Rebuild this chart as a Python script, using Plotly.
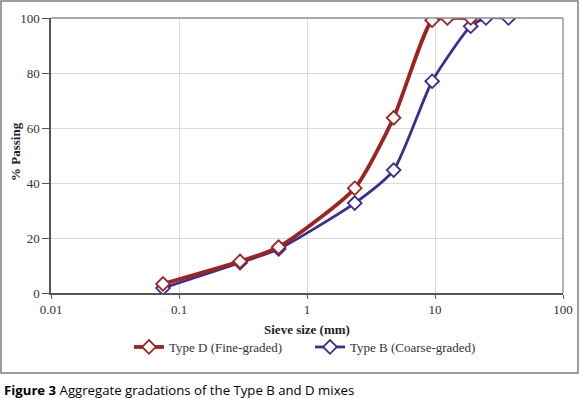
import plotly.graph_objects as go

sieve_d = [0.075, 0.3, 0.6, 2.36, 4.75, 9.5, 12.5, 19]
pass_d = [3.3, 11.5, 16.7, 38.1, 63.7, 99.2, 100, 100]
sieve_b = [0.075, 0.3, 0.6, 2.36, 4.75, 9.5, 19, 25, 37.5]
pass_b = [1.8, 11.0, 16.0, 32.7, 44.7, 77.0, 97.0, 100, 100]

red = "#9b2423"
blue = "#3b2d92"
serif = "Liberation Serif"

fig = go.Figure()
fig.add_trace(go.Scatter(
    x=sieve_b, y=pass_b, name="Type B (Coarse-graded)", mode="lines+markers",
    line=dict(color=blue, width=2.8, shape="spline", smoothing=0.6),
    marker=dict(symbol="diamond", size=10.5, color="white", line=dict(color=blue, width=1.8)),
    legendrank=2,
))
fig.add_trace(go.Scatter(
    x=sieve_d, y=pass_d, name="Type D (Fine-graded)", mode="lines+markers",
    line=dict(color=red, width=3.8, shape="spline", smoothing=0.6),
    marker=dict(symbol="diamond", size=10.5, color="white", line=dict(color=red, width=1.8)),
    legendrank=1,
))

L, R, T, B = 51, 17, 18, 105
W, H = 580, 398
pw, ph = W - L - R, H - T - B

def px(x):
    return (x - L) / pw

def py(y):
    return (H - B - y) / ph

fig.add_shape(type="rect", xref="paper", yref="paper",
              x0=px(1), x1=px(578), y0=py(373), y1=py(1),
              line=dict(color="#7f7f7f", width=1.5), fillcolor="rgba(0,0,0,0)", layer="above")

fig.add_annotation(xref="paper", yref="paper", x=px(2), y=py(390), xanchor="left", yanchor="middle",
                   showarrow=False,
                   text="<b>Figure 3</b> Aggregate gradations of the Type B and D mixes",
                   font=dict(family="Open Sans", size=13.2, color="black"))

fig.add_annotation(xref="paper", yref="paper", x=px(15), y=py(152), xanchor="center", yanchor="middle",
                   showarrow=False, textangle=-90, text="<b>% Passing</b>",
                   font=dict(family=serif, size=13, color="#222222"))

fig.update_layout(
    width=W, height=H, autosize=False,
    margin=dict(l=L, r=R, t=T, b=B, pad=0, autoexpand=False),
    paper_bgcolor="white", plot_bgcolor="white",
    font=dict(family=serif, size=13, color="#333333"),
    showlegend=True,
    legend=dict(orientation="h", x=px(310), xanchor="center", y=py(347), yanchor="middle",
                font=dict(family=serif, size=13, color="#333333"), itemwidth=30,
                entrywidth=136, traceorder="normal"),
    xaxis=dict(type="log", range=[-2, 2], tickvals=[0.01, 0.1, 1, 10, 100],
               ticktext=["0.01", "0.1", "1", "10", "100"], automargin=False,
               showgrid=True, gridcolor="#d9d9d9", gridwidth=1,
               showline=True, linecolor="#555555", linewidth=1.5, mirror=False,
               ticks="outside", ticklen=4, tickcolor="#555555",
               title=dict(text="<b>Sieve size (mm)</b>", standoff=9,
                          font=dict(family=serif, size=13, color="#222222")),
               zeroline=False),
    yaxis=dict(range=[0, 100], tickvals=[0, 20, 40, 60, 80, 100], automargin=False,
               showgrid=True, gridcolor="#d9d9d9", gridwidth=1,
               showline=True, linecolor="#555555", linewidth=1.5,
               ticks="outside", ticklen=7, tickcolor="#555555",
               zeroline=False),
)
fig.add_shape(type="line", xref="paper", yref="paper", x0=1, x1=1, y0=0, y1=1,
              line=dict(color="#8c8c8c", width=1.3))
fig.add_shape(type="line", xref="paper", yref="paper", x0=0, x1=1, y0=1, y1=1,
              line=dict(color="#8c8c8c", width=1.3))

fig.write_html("out.html", post_script="document.body.style.margin='0';",
               config={"displayModeBar": False})
